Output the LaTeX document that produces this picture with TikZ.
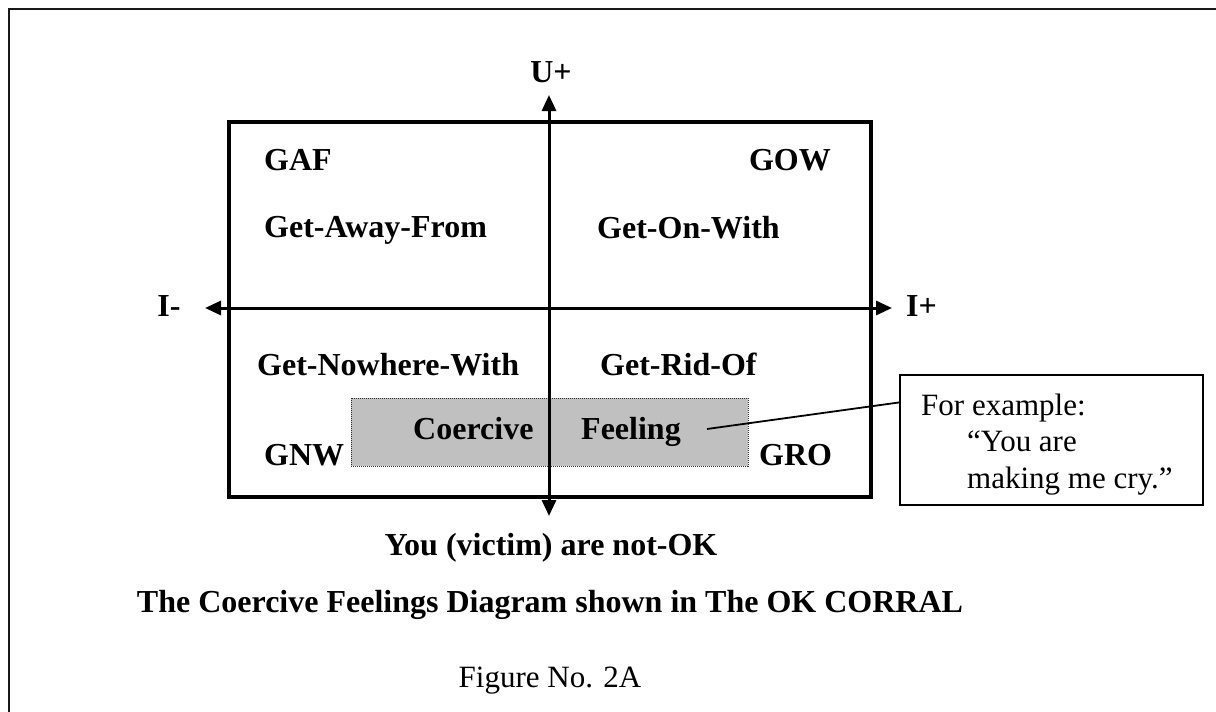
\documentclass[tikz,border=0pt]{standalone}
\usepackage{fontspec}
\setmainfont{Liberation Serif}
\usetikzlibrary{arrows.meta,calc}
\begin{document}
\begin{tikzpicture}[x=1pt,y=-1pt,
  lbl/.style={inner sep=0pt,font=\fontsize{32}{37}\selectfont\bfseries},
  rlbl/.style={inner sep=0pt,font=\fontsize{31}{36}\selectfont},
  axisline/.style={line width=3pt,{Triangle[length=16pt,width=14pt]}-{Triangle[length=16pt,width=14pt]}},
  quadbox/.style={draw,line width=4pt},
  graybox/.style={fill={rgb,255:red,192;green,192;blue,192},draw=black!80,line width=1pt,densely dotted},
  calloutbox/.style={draw,line width=1.8pt,inner sep=0pt,minimum width=303pt,minimum height=130pt},
  frameline/.style={line width=1.8pt,draw=black!90}
]
\useasboundingbox (0,0) rectangle (1216,712);
% outer frame (only top and left edges visible)
\coordinate (fbl) at (9,712);
\coordinate (ftl) at (9,9);
\coordinate (ftr) at (1216,9);
\draw[frameline] (fbl) -- (ftl) -- (ftr);

% gray highlight
\path[graybox] (351,398) rectangle (748,466);

% quadrant box
\draw[quadbox] (229,122) rectangle (871,497);

% axes
\coordinate (utop) at (549,95);
\coordinate (ubot) at (549,516);
\coordinate (ileft) at (205,308);
\coordinate (iright) at (892,308);
\draw[axisline] (ubot) -- (utop);
\draw[axisline] (ileft) -- (iright);

% axis labels
\node[lbl,anchor=base] (uplus) at (551,82) {U+};
\node[lbl,anchor=base] (iminus) at (169,316) {I-};
\node[lbl,anchor=base west] (iplus) at (906,316) {I+};

% quadrant labels
\node[lbl,anchor=base west] (gaf) at (264,170) {GAF};
\node[lbl,anchor=base east] (gow) at (831,170) {GOW};
\node[lbl,anchor=base west] (gaft) at (264,237) {Get-Away-From};
\node[lbl,anchor=base west] (gowt) at (597,238) {Get-On-With};
\node[lbl,anchor=base west] (gnwt) at (257,375) {Get-Nowhere-With};
\node[lbl,anchor=base west] (grot) at (600,375) {Get-Rid-Of};
\node[lbl,anchor=base west] (coer) at (413,439) {Coercive};
\node[lbl,anchor=base west] (feel) at (581,439) {Feeling};
\node[lbl,anchor=base west] (gnw) at (264,465) {GNW};
\node[lbl,anchor=base west] (gro) at (759,465) {GRO};

% callout
\node[calloutbox] (callout) at (1051.5,440) {};
\node[rlbl,anchor=base west] (ex1) at (921,415) {For example:};
\node[rlbl,anchor=base west] (ex2) at (967,451) {“You are};
\node[rlbl,anchor=base west] (ex3) at (967,488) {making me cry.”};
\coordinate (cpt) at (707,429);
\coordinate (cend) at ($(callout.north west)!0.215!(callout.south west)$);
\draw[line width=1.8pt] (cpt) -- (cend);

% bottom texts
\node[lbl,anchor=base] (victim) at (551,555) {You (victim) are not-OK};
\node[lbl,anchor=base] (caption) at (550,612) {The Coercive Feelings Diagram shown in The OK CORRAL};
\node[rlbl,anchor=base] (fig) at (550,687) {Figure No. 2A};
\end{tikzpicture}
\end{document}
